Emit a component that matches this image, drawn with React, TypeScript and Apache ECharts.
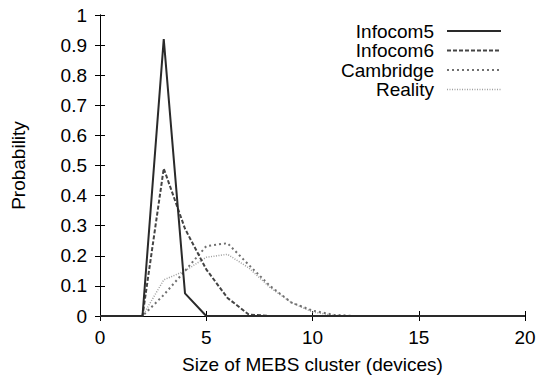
import React, { useEffect, useRef } from "react";
import * as echarts from "echarts";

const sizes = [0, 1, 2, 3, 4, 5, 6, 7, 8, 9, 10, 11, 12, 13, 14, 15, 16, 17, 18, 19, 20];
const infocom5 = [0, 0, 0, 0.92, 0.075, 0, 0, 0, 0, 0, 0, 0, 0, 0, 0, 0, 0, 0, 0, 0, 0];
const infocom6 = [0, 0, 0, 0.49, 0.29, 0.155, 0.06, 0.005, 0, 0, 0, 0, 0, 0, 0, 0, 0, 0, 0, 0, 0];
const cambridge = [0, 0, 0, 0.07, 0.15, 0.232, 0.242, 0.17, 0.1, 0.045, 0.018, 0.004, 0, 0, 0, 0, 0, 0, 0, 0, 0];
const reality = [0, 0, 0, 0.12, 0.15, 0.195, 0.205, 0.16, 0.095, 0.045, 0.013, 0.002, 0, 0, 0, 0, 0, 0, 0, 0, 0];

const seriesNames = ["Infocom5", "Infocom6", "Cambridge", "Reality"];
const seriesValues = [infocom5, infocom6, cambridge, reality];
const seriesColors = ["#2a2a2a", "#444444", "#707070", "#a0a0a0"];
const seriesWidths = [2, 2, 2, 1.5];
const seriesDash: (number[] | "solid")[] = ["solid", [4, 2], [2, 3], [1, 1.5]];

const FONT = "Liberation Sans, Arial, Helvetica, sans-serif";
const FS = 19;

export default function App() {
  const ref = useRef<HTMLDivElement>(null);
  useEffect(() => {
    if (!ref.current) return;
    const chart = echarts.init(ref.current, undefined, { renderer: "svg" });
    const axisLineStyle = { color: "#000", width: 1 };
    const legendX = 434;
    const legendY0 = 31;
    const legendStep = 19.5;
    const graphics: any[] = [];
    seriesNames.forEach((name, i) => {
      const y = legendY0 + i * legendStep;
      graphics.push({
        type: "text",
        x: legendX,
        y,
        style: {
          text: name,
          fill: "#000",
          font: `${FS}px ${FONT}`,
          textAlign: "right",
          textVerticalAlign: "middle",
          align: "right",
          verticalAlign: "middle",
        },
      });
      graphics.push({
        type: "line",
        shape: { x1: 447, y1: y, x2: 501, y2: y },
        style: {
          stroke: seriesColors[i],
          lineWidth: seriesWidths[i],
          lineDash: seriesDash[i] === "solid" ? null : seriesDash[i],
        },
      });
    });
    const labelStyle = { color: "#000", fontSize: FS, fontFamily: FONT };
    chart.setOption({
      animation: false,
      backgroundColor: "#fff",
      grid: { left: 100, right: 15, top: 15, bottom: 60, containLabel: false },
      xAxis: [
        {
          type: "value",
          min: 0,
          max: 20,
          interval: 5,
          position: "bottom",
          name: "Size of MEBS cluster (devices)",
          nameLocation: "middle",
          nameGap: 39,
          nameTextStyle: labelStyle,
          axisLine: { show: true, lineStyle: axisLineStyle },
          axisTick: { show: true, inside: true, length: 5, lineStyle: axisLineStyle },
          axisLabel: { ...labelStyle, margin: 12 },
          splitLine: { show: false },
        },
        {
          type: "value",
          min: 0,
          max: 20,
          interval: 5,
          position: "top",
          axisLine: { show: true, lineStyle: axisLineStyle },
          axisTick: { show: true, inside: true, length: 5, lineStyle: axisLineStyle },
          axisLabel: { show: false },
          splitLine: { show: false },
        },
      ],
      yAxis: [
        {
          type: "value",
          min: 0,
          max: 1,
          interval: 0.1,
          position: "left",
          name: "Probability",
          nameLocation: "middle",
          nameGap: 72,
          nameTextStyle: labelStyle,
          axisLine: { show: true, lineStyle: axisLineStyle },
          axisTick: { show: true, inside: true, length: 5, lineStyle: axisLineStyle },
          axisLabel: { ...labelStyle, margin: 13 },
          splitLine: { show: false },
        },
        {
          type: "value",
          min: 0,
          max: 1,
          interval: 0.1,
          position: "right",
          axisLine: { show: true, lineStyle: axisLineStyle },
          axisTick: { show: true, inside: true, length: 5, lineStyle: axisLineStyle },
          axisLabel: { show: false },
          splitLine: { show: false },
        },
      ],
      series: seriesNames.map((name, i) => ({
        name,
        type: "line",
        xAxisIndex: 0,
        yAxisIndex: 0,
        symbol: "none",
        showSymbol: false,
        data: sizes.map((x, j) => [x, seriesValues[i][j]]),
        lineStyle: {
          color: seriesColors[i],
          width: seriesWidths[i],
          type: seriesDash[i],
        },
        itemStyle: { color: seriesColors[i] },
        z: 4 - i,
      })),
      graphic: graphics,
    });
    return () => chart.dispose();
  }, []);
  return (
    <div
      ref={ref}
      style={{ position: "fixed", left: 0, top: 0, width: 540, height: 379, background: "#fff" }}
    />
  );
}
